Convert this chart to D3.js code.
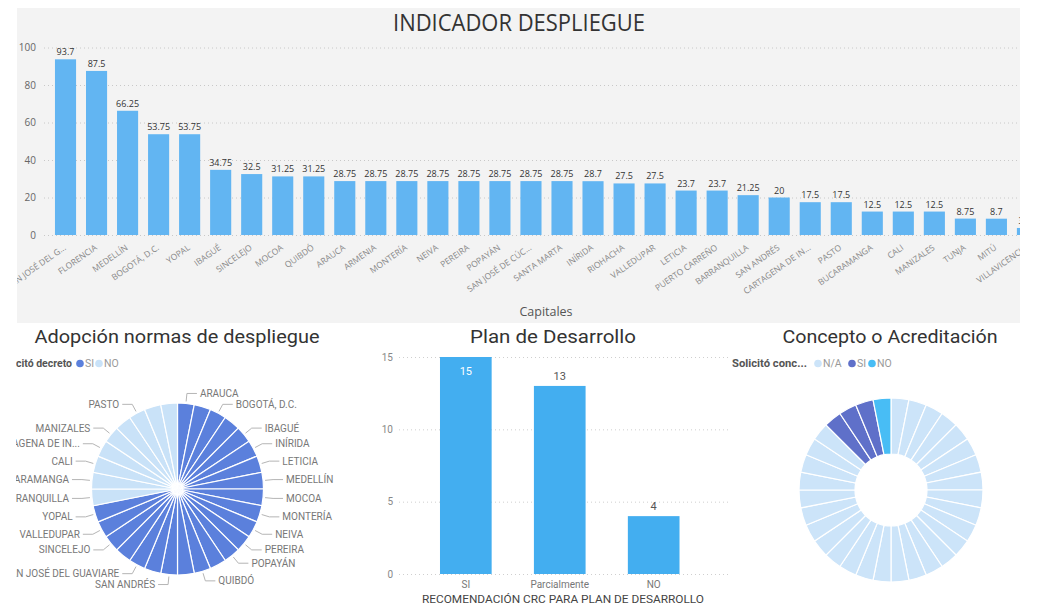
<!DOCTYPE html>
<html><head><meta charset="utf-8">
<script src="https://cdn.jsdelivr.net/npm/d3@7"></script>
<style>body{margin:0;background:#fff;} svg{display:block;}</style>
</head><body><svg id="c" width="1043" height="609"></svg>
<script>
// ---------- DATA ----------
const indicatorCapitals = ["SAN JOSÉ DEL G...","FLORENCIA","MEDELLÍN","BOGOTÁ, D.C.","YOPAL","IBAGUÉ","SINCELEJO","MOCOA","QUIBDÓ","ARAUCA","ARMENIA","MONTERÍA","NEIVA","PEREIRA","POPAYÁN","SAN JOSÉ DE CÚC...","SANTA MARTA","INÍRIDA","RIOHACHA","VALLEDUPAR","LETICIA","PUERTO CARREÑO","BARRANQUILLA","SAN ANDRÉS","CARTAGENA DE IN...","PASTO","BUCARAMANGA","CALI","MANIZALES","TUNJA","MITÚ","VILLAVICENCIO"];
const indicatorValues = [93.7,87.5,66.25,53.75,53.75,34.75,32.5,31.25,31.25,28.75,28.75,28.75,28.75,28.75,28.75,28.75,28.75,28.7,27.5,27.5,23.7,23.7,21.25,20,17.5,17.5,12.5,12.5,12.5,8.75,8.7,3.75];
const indicatorTicks = [0,20,40,60,80,100];

const decreeCapitals = ["ARAUCA","ARMENIA","BOGOTÁ, D.C.","FLORENCIA","IBAGUÉ","INÍRIDA","LETICIA","MEDELLÍN","MOCOA","MONTERÍA","NEIVA","PEREIRA","POPAYÁN","PUERTO CARREÑO","QUIBDÓ","RIOHACHA","SAN ANDRÉS","SAN JOSÉ DE CÚC...","SAN JOSÉ DEL GUAVIARE","SANTA MARTA","SINCELEJO","VALLEDUPAR","YOPAL","BARRANQUILLA","BUCARAMANGA","CALI","CARTAGENA DE IN...","MANIZALES","MITÚ","PASTO","TUNJA","VILLAVICENCIO"];
const decreeAnswers = ["SI","SI","SI","SI","SI","SI","SI","SI","SI","SI","SI","SI","SI","SI","SI","SI","SI","SI","SI","SI","SI","SI","SI","NO","NO","NO","NO","NO","NO","NO","NO","NO"];
const decreeHiddenLabels = ["ARMENIA","FLORENCIA","PUERTO CARREÑO","RIOHACHA","SAN JOSÉ DE CÚC...","SANTA MARTA","MITÚ","TUNJA","VILLAVICENCIO"];
const decreeLegend = ["SI","NO"];

const planCategories = ["SI","Parcialmente","NO"];
const planValues = [15,13,4];
const planTicks = [0,5,10,15];

const conceptLegend = ["N/A","SI","NO"];
const conceptCounts = [28,3,1];

// ---------- STYLE ----------
const topFont = "'Segoe UI','Open Sans',sans-serif";
const dinFont = "Roboto,'Noto Sans',sans-serif";
const svg = d3.select("#c");
const defs = svg.append("defs");

// ===== TOP PANEL =====
defs.append("clipPath").attr("id","clipTop").append("rect")
  .attr("x",17).attr("y",8).attr("width",1003).attr("height",315);
svg.append("rect").attr("x",17).attr("y",8).attr("width",1003).attr("height",315).attr("fill","#f3f3f3");
const topG = svg.append("g").attr("clip-path","url(#clipTop)");

topG.append("text").attr("x",519).attr("y",31).attr("text-anchor","middle")
  .attr("font-family",topFont).attr("font-size",23).attr("fill","#333")
  .attr("textLength",252).attr("lengthAdjust","spacingAndGlyphs")
  .text("INDICADOR DESPLIEGUE");

const xT = d3.scaleBand().domain(indicatorCapitals).range([50, 50+32*31.03]).paddingInner(0.32).paddingOuter(0.16);
const yT = d3.scaleLinear().domain([0,100]).range([235,47.5]);

const gyT = topG.append("g").attr("transform","translate(44,0)")
  .call(d3.axisLeft(yT).tickValues(indicatorTicks).tickSize(-976).tickPadding(8));
gyT.select(".domain").remove();
gyT.selectAll(".tick line").attr("stroke","#c8c8c8").attr("stroke-dasharray","1,3");
gyT.selectAll(".tick text").attr("font-family",topFont).attr("font-size",10).attr("fill","#666");

topG.append("g").selectAll("rect").data(indicatorValues).join("rect")
  .attr("x",(d,i)=>xT(indicatorCapitals[i])).attr("width",xT.bandwidth())
  .attr("y",d=>yT(d)).attr("height",d=>yT(0)-yT(d)).attr("fill","#62b5f2");

topG.append("g").selectAll("text").data(indicatorValues).join("text")
  .attr("x",(d,i)=>xT(indicatorCapitals[i])+xT.bandwidth()/2).attr("y",d=>yT(d)-4)
  .attr("text-anchor","middle").attr("font-family",topFont).attr("font-size",9)
  .attr("fill","#333").text(d=>String(d));

const gxT = topG.append("g").attr("transform","translate(0,235)")
  .call(d3.axisBottom(xT).tickSize(0).tickPadding(0));
gxT.select(".domain").remove();
gxT.selectAll(".tick text").attr("font-family",topFont).attr("font-size",8.5).attr("fill","#888")
  .attr("text-anchor","end").attr("dy",0).attr("y",0)
  .attr("transform","translate(1,14) rotate(-35)");

topG.append("text").attr("x",546).attr("y",316).attr("text-anchor","middle")
  .attr("font-family",topFont).attr("font-size",12.5).attr("fill","#555").text("Capitales");

// ===== LEFT PANEL: PIE =====
defs.append("clipPath").attr("id","clipLeft").append("rect")
  .attr("x",16).attr("y",324).attr("width",340).attr("height",285);
const leftG = svg.append("g").attr("clip-path","url(#clipLeft)");
leftG.append("text").attr("x",177).attr("y",343).attr("text-anchor","middle")
  .attr("font-family",dinFont).attr("font-size",19).attr("fill","#333")
  .attr("textLength",285).attr("lengthAdjust","spacingAndGlyphs")
  .text("Adopción normas de despliegue");

const decreeColor = d3.scaleOrdinal().domain(decreeLegend).range(["#5b80dc","#c9e2f8"]);
const lg = leftG.append("g").attr("font-family",dinFont).attr("font-size",10.5);
lg.append("text").attr("x",72).attr("y",367).attr("text-anchor","end").attr("font-weight","bold").attr("fill","#555").text("Solicitó decreto");
const lgX = [80,99];
decreeLegend.forEach((k,i)=>{
  lg.append("circle").attr("cx",lgX[i]).attr("cy",363.5).attr("r",3.8).attr("fill",decreeColor(k));
  lg.append("text").attr("x",lgX[i]+5).attr("y",367).attr("fill","#999").text(k);
});

const pcx = 177.5, pcy = 489, pr = 86;
const pieGen = d3.pie().sort(null).value(()=>1);
const pieData = pieGen(decreeCapitals.map((c,i)=>({name:c, ans:decreeAnswers[i]})));
const arcP = d3.arc().innerRadius(0).outerRadius(pr);
const pg = leftG.append("g").attr("transform",`translate(${pcx},${pcy})`);
pg.selectAll("path").data(pieData).join("path").attr("d",arcP)
  .attr("fill",d=>decreeColor(d.data.ans)).attr("stroke","#fff").attr("stroke-width",1.2);

const lab = pieData.filter(d=>!decreeHiddenLabels.includes(d.data.name));
lab.forEach(d=>{
  const a = (d.startAngle+d.endAngle)/2;
  const s = Math.sin(a), c = -Math.cos(a);
  const p1 = [ (pr+2)*s, (pr+2)*c ], p2 = [ (pr+10)*s, (pr+10)*c ];
  const right = a < Math.PI;
  const p3 = [ p2[0] + (right?10:-10), p2[1] ];
  pg.append("polyline").attr("points",[p1,p2,p3].map(p=>p.join(",")).join(" "))
    .attr("fill","none").attr("stroke","#b5b5b5").attr("stroke-width",1);
  pg.append("text").attr("x",p3[0]+(right?3:-3)).attr("y",p3[1]).attr("dy","0.35em")
    .attr("text-anchor",right?"start":"end").attr("font-family",dinFont).attr("font-size",10)
    .attr("fill","#777").text(d.data.name);
});

// ===== MIDDLE PANEL: PLAN =====
const midG = svg.append("g");
midG.append("text").attr("x",553).attr("y",343).attr("text-anchor","middle")
  .attr("font-family",dinFont).attr("font-size",19).attr("fill","#333")
  .attr("textLength",166).attr("lengthAdjust","spacingAndGlyphs").text("Plan de Desarrollo");
const xM = d3.scaleBand().domain(planCategories).range([416.5,703]).paddingInner(0.45).paddingOuter(0.25);
const yM = d3.scaleLinear().domain([0,15]).range([574,357]);
const gyM = midG.append("g").attr("transform","translate(399,0)")
  .call(d3.axisLeft(yM).tickValues(planTicks).tickSize(-330).tickPadding(6));
gyM.select(".domain").remove();
gyM.selectAll(".tick line").attr("stroke","#cfcfcf").attr("stroke-dasharray","1,3");
gyM.selectAll(".tick text").attr("font-family",dinFont).attr("font-size",10).attr("fill","#888");
midG.append("g").selectAll("rect").data(planValues).join("rect")
  .attr("x",(d,i)=>xM(planCategories[i])).attr("width",xM.bandwidth())
  .attr("y",d=>yM(d)).attr("height",d=>yM(0)-yM(d)).attr("fill","#43aef0");
midG.append("g").selectAll("text").data(planValues).join("text")
  .attr("x",(d,i)=>xM(planCategories[i])+xM.bandwidth()/2)
  .attr("y",d=> yM(d) < 365 ? yM(d)+18 : yM(d)-6)
  .attr("text-anchor","middle").attr("font-family",dinFont).attr("font-size",11)
  .attr("fill",d=> yM(d) < 365 ? "#fff" : "#555").text(d=>d);
const gxM = midG.append("g").attr("transform","translate(0,574)")
  .call(d3.axisBottom(xM).tickSize(0).tickPadding(7));
gxM.select(".domain").remove();
gxM.selectAll(".tick text").attr("font-family",dinFont).attr("font-size",10).attr("fill","#777");
midG.append("text").attr("x",563).attr("y",603).attr("text-anchor","middle")
  .attr("font-family",dinFont).attr("font-size",11.5).attr("fill","#444")
  .attr("textLength",282).attr("lengthAdjust","spacingAndGlyphs")
  .text("RECOMENDACIÓN CRC PARA PLAN DE DESARROLLO");

// ===== RIGHT PANEL: DONUT =====
const rtG = svg.append("g");
rtG.append("text").attr("x",890).attr("y",343).attr("text-anchor","middle")
  .attr("font-family",dinFont).attr("font-size",19).attr("fill","#333")
  .attr("textLength",215).attr("lengthAdjust","spacingAndGlyphs").text("Concepto o Acreditación");
const conceptColor = d3.scaleOrdinal().domain(conceptLegend).range(["#cce4f9","#5f70c9","#48bdf5"]);
const rl = rtG.append("g").attr("font-family",dinFont).attr("font-size",10.5);
rl.append("text").attr("x",732).attr("y",367).attr("font-weight","bold").attr("fill","#555")
  .attr("textLength",75).attr("lengthAdjust","spacingAndGlyphs").text("Solicitó conc...");
const rlX = [818,852,872];
conceptLegend.forEach((k,i)=>{
  rl.append("circle").attr("cx",rlX[i]).attr("cy",363.5).attr("r",3.8).attr("fill",conceptColor(k));
  rl.append("text").attr("x",rlX[i]+5).attr("y",367).attr("fill","#999").text(k);
});
const conceptSlices = conceptLegend.flatMap((k,i)=>d3.range(conceptCounts[i]).map(()=>k));
const donut = d3.pie().sort(null).value(()=>1)(conceptSlices);
const arcD = d3.arc().innerRadius(36).outerRadius(92);
rtG.append("g").attr("transform","translate(891,490)").selectAll("path").data(donut).join("path")
  .attr("d",arcD).attr("fill",d=>conceptColor(d.data)).attr("stroke","#fff").attr("stroke-width",1.2);
</script></body></html>
